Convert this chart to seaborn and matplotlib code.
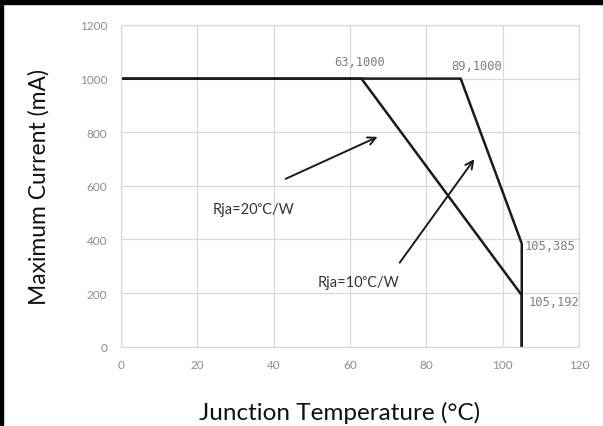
"""Maximum current vs junction temperature derating curves."""
import matplotlib

matplotlib.use("Agg")
import matplotlib.pyplot as plt
import pandas as pd
import seaborn as sns

# derating curves (junction temperature in C, max current in mA)
rja20_temp = [0, 63, 105, 105]
rja20_current = [1000, 1000, 192, 0]
rja10_temp = [0, 89, 105, 105]
rja10_current = [1000, 1000, 385, 0]

# corner labels
corner_labels = ["63,1000", "89,1000", "105,385", "105,192"]
corner_pos = [(62.4, 1062), (93.3, 1048), (112.3, 379), (113.3, 167)]

x_ticks = [0, 20, 40, 60, 80, 100, 120]
y_ticks = [0, 200, 400, 600, 800, 1000, 1200]

GRID = "#d9d9d9"
TICK = "#8c8c8c"
LINE = "#1a1a1a"


def main():
    sns.set_theme(style="whitegrid")
    plt.rcParams["font.family"] = ["Lato", "DejaVu Sans"]

    fig = plt.figure(figsize=(6.03, 4.27), dpi=100)
    ax = fig.add_axes([121 / 603, 1 - 347.7 / 427, 458 / 603, 321.7 / 427])

    df = pd.concat(
        [
            pd.DataFrame({"temp": rja20_temp, "current": rja20_current, "rja": "20"}),
            pd.DataFrame({"temp": rja10_temp, "current": rja10_current, "rja": "10"}),
        ]
    )
    for _, grp in df.groupby("rja"):
        sns.lineplot(
            data=grp, x="temp", y="current", sort=False, estimator=None,
            color=LINE, linewidth=1.8, ax=ax,
        )

    ax.set_xlim(0, 120)
    ax.set_ylim(0, 1200)
    ax.set_xticks(x_ticks)
    ax.set_yticks(y_ticks)
    ax.grid(True, color=GRID, linewidth=0.9)
    for spine in ax.spines.values():
        spine.set_color(GRID)
        spine.set_linewidth(0.9)
    ax.tick_params(axis="both", length=0, labelsize=8.5, labelcolor=TICK)
    ax.tick_params(axis="y", pad=10)
    ax.tick_params(axis="x", pad=9)

    ax.set_xlabel("Junction Temperature (°C)", fontsize=17.5, color="#111111")
    ax.set_ylabel("Maximum Current (mA)", fontsize=16.5, color="#111111")
    ax.xaxis.label.set_va("center")
    ax.yaxis.label.set_va("center")
    ax.xaxis.set_label_coords(0.478, -0.204)
    ax.yaxis.set_label_coords(-0.179, 0.5)

    for label, (x, y) in zip(corner_labels, corner_pos):
        ax.text(x, y, label, ha="center", va="center", fontsize=8.7,
                family="DejaVu Sans Mono", color="#7f7f7f")

    arrow = dict(arrowstyle="->", color=LINE, linewidth=1.4, mutation_scale=14)
    ax.annotate("", xy=(67.9, 787), xytext=(42.5, 622), arrowprops=arrow)
    ax.annotate("", xy=(93.0, 708), xytext=(72.6, 305), arrowprops=arrow)
    ax.text(24.1, 514, "Rja=20ᵒC/W", ha="left", va="center", fontsize=10.5, color="#333333")
    ax.text(51.4, 242, "Rja=10ᵒC/W", ha="left", va="center", fontsize=10.5, color="#333333")

    # black frame edges of the original screenshot
    fig.add_artist(plt.Rectangle((0, 1 - 5 / 427), 1, 5 / 427, transform=fig.transFigure,
                                 color="black", zorder=10))
    fig.add_artist(plt.Rectangle((0, 0), 3 / 603, 1, transform=fig.transFigure,
                                 color="black", zorder=10))

    fig.savefig("out.png", dpi=100)


if __name__ == "__main__":
    main()
